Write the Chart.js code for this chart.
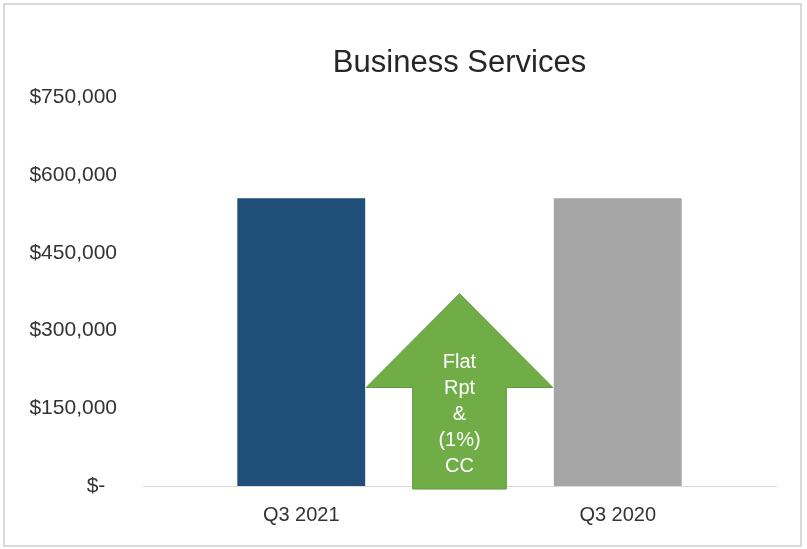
<!DOCTYPE html>
<html>
<head>
<meta charset="utf-8">
<script src="https://cdn.jsdelivr.net/npm/chart.js@4"></script>
<style>
  html, body { margin: 0; padding: 0; background: #ffffff; }
  #frame {
    position: absolute; left: 3px; top: 3px;
    width: 799px; height: 544px;
    box-sizing: border-box; border: 2px solid #d9d9d9; background: #fff;
  }
  #c { display: block; }
</style>
</head>
<body>
<div id="frame"><canvas id="c" width="795" height="540"></canvas></div>
<script>
// ---- data ----
const categories = ['Q3 2021', 'Q3 2020'];
const revenue = [555000, 555000];
const yTicks = [0, 150000, 300000, 450000, 600000, 750000];
const arrowLines = ['Flat', 'Rpt', '&', '(1%)', 'CC'];
const arrowLevels = { tip: 371000, headBase: 190000, textCenter: 140000 };

const FONT = "'Liberation Sans', Arial, sans-serif";

const arrowPlugin = {
  id: 'changeArrow',
  afterDatasetsDraw(chart) {
    const xs = chart.scales.x, ys = chart.scales.y, ctx = chart.ctx;
    const x0 = xs.getPixelForValue(0), x1 = xs.getPixelForValue(1);
    const cw = x1 - x0;
    const cx = (x0 + x1) / 2;
    const shaftHalf = cw * 0.148;
    const headHalf = cw * 0.295;
    const tipY = ys.getPixelForValue(arrowLevels.tip);
    const baseY = ys.getPixelForValue(arrowLevels.headBase);
    const bottomY = ys.getPixelForValue(0) + 3;
    ctx.save();
    ctx.beginPath();
    ctx.moveTo(cx, tipY);
    ctx.lineTo(cx + headHalf, baseY);
    ctx.lineTo(cx + shaftHalf, baseY);
    ctx.lineTo(cx + shaftHalf, bottomY);
    ctx.lineTo(cx - shaftHalf, bottomY);
    ctx.lineTo(cx - shaftHalf, baseY);
    ctx.lineTo(cx - headHalf, baseY);
    ctx.closePath();
    ctx.fillStyle = '#70AD47';
    ctx.fill();
    ctx.lineWidth = 1;
    ctx.strokeStyle = '#5F9A3B';
    ctx.stroke();
    // text
    ctx.fillStyle = '#ffffff';
    ctx.font = '20px ' + FONT;
    ctx.textAlign = 'center';
    ctx.textBaseline = 'middle';
    const lh = 26;
    const cy = ys.getPixelForValue(arrowLevels.textCenter);
    const n = arrowLines.length;
    arrowLines.forEach((t, i) => {
      ctx.fillText(t, cx, cy + (i - (n - 1) / 2) * lh + 1);
    });
    ctx.restore();
  }
};

new Chart(document.getElementById('c'), {
  type: 'bar',
  data: {
    labels: categories,
    datasets: [{
      data: revenue,
      backgroundColor: ['#1F4E79', '#A5A5A5'],
      borderWidth: 0,
      barPercentage: 0.404,
      categoryPercentage: 1.0
    }]
  },
  options: {
    responsive: false,
    animation: false,
    layout: { padding: { top: 40, right: 24, bottom: 1, left: 0 } },
    plugins: {
      legend: { display: false },
      tooltip: { enabled: false },
      title: {
        display: true,
        fullSize: false,
        text: 'Business Services',
        color: '#262626',
        font: { family: FONT, size: 31, weight: 'normal' },
        padding: { top: 0, bottom: 15 }
      }
    },
    scales: {
      x: {
        grid: { display: false, drawTicks: false },
        border: { display: true, color: '#d9d9d9', width: 1 },
        ticks: { color: '#333333', font: { family: FONT, size: 20 }, padding: 17 }
      },
      y: {
        min: 0, max: 750000,
        afterBuildTicks(scale) { scale.ticks = yTicks.map(v => ({ value: v })); },
        afterFit(scale) { scale.width = 138; },
        grid: { display: false, drawTicks: false },
        border: { display: false },
        ticks: {
          color: '#333333',
          font: { family: FONT, size: 21 },
          padding: 26,
          callback: (v) => v === 0 ? '$-  ' : '$' + Number(v).toLocaleString('en-US')
        }
      }
    }
  },
  plugins: [arrowPlugin]
});
</script>
</body>
</html>
